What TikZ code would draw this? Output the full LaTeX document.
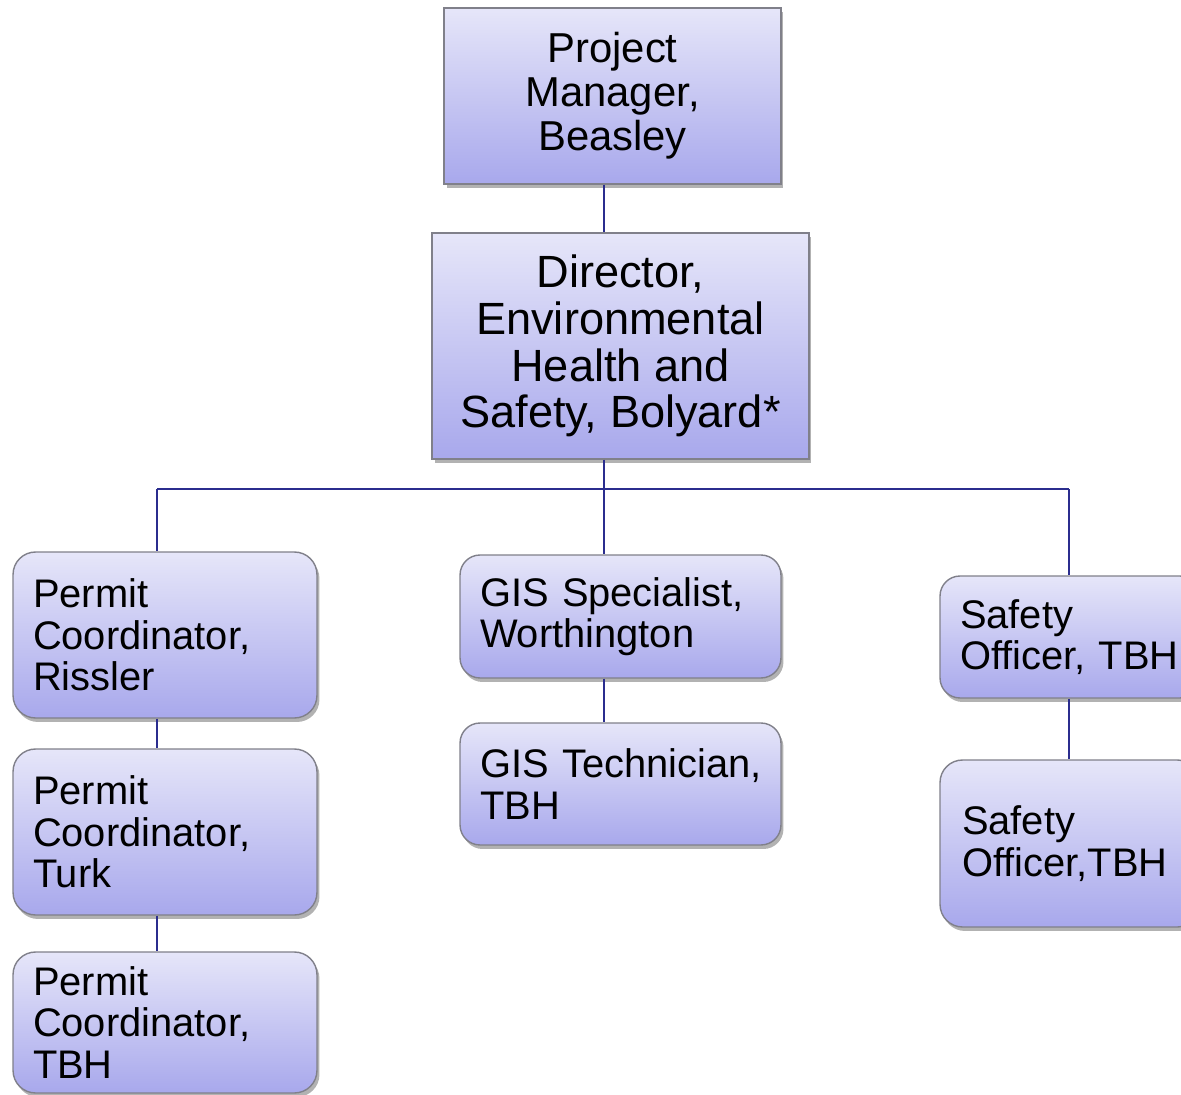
\documentclass[tikz,border=0pt]{standalone}
\usepackage{fontspec}
\setmainfont{Liberation Sans}
\frenchspacing
\usetikzlibrary{shadows}
\definecolor{boxtop}{HTML}{E6E6F9}
\definecolor{boxbot}{HTML}{A8A8EC}
\definecolor{boxline}{HTML}{80808A}
\definecolor{link}{HTML}{2B2D8E}
\tikzset{
	box/.style={draw=boxline, line width=0.8pt, top color=boxtop, bottom color=boxbot,
		drop shadow={shadow xshift=0.5mm, shadow yshift=-0.8mm, opacity=0.3, fill=black},
		align=center, inner sep=0pt},
	card/.style={box, rounded corners=0.45cm, align=left, inner xsep=0.4cm, inner ysep=0pt,
		font=\fontsize{22.7}{23.6}\selectfont},
	wire/.style={link, line width=1.1pt}
}
\begin{document}
\begin{tikzpicture}[x=0.02cm, y=-0.02cm]
	\useasboundingbox (0,0) rectangle (1181,1095);

	% top of the chart
	\node[box, minimum width=6.74cm, minimum height=3.52cm, font=\fontsize{23.8}{25}\selectfont] (pm) at (612.5,96) {Project\\Manager,\\Beasley};
	\node[box, minimum width=7.54cm, minimum height=4.52cm, font=\fontsize{25.7}{26.6}\selectfont] (dir) at (620.5,346) {Director,\\Environmental\\Health and\\Safety, Bolyard*};

	% permit column
	\node[card, text width=5.28cm, minimum height=3.32cm] (permA) at (165,635) {Permit\\Coordinator,\\Rissler};
	\node[card, text width=5.28cm, minimum height=3.32cm] (permB) at (165,832) {Permit\\Coordinator,\\Turk};
	\node[card, text width=5.28cm, minimum height=2.82cm] (permC) at (165,1022.5) {Permit\\Coordinator,\\TBH};

	% gis column
	\node[card, rounded corners=0.4cm, text width=5.62cm, minimum height=2.46cm] (gisA) at (620.5,616.5) {\mbox{GIS Specialist,}\\Worthington};
	\node[card, rounded corners=0.4cm, text width=5.62cm, minimum height=2.44cm] (gisB) at (620.5,784) {\mbox{GIS Technician,}\\TBH};

	% safety column
	\node[card, rounded corners=0.4cm, text width=4.4cm, minimum height=2.44cm] (safeA) at (1070,637) {Safety\\\mbox{Officer, TBH}};
	\node[card, rounded corners=0.45cm, text width=4.32cm, inner xsep=0.44cm, minimum height=3.34cm] (safeB) at (1070,843.5) {Safety\\\mbox{Officer,TBH}};

	\coordinate (trunk) at (604,489);
	\coordinate (busL) at (157,489);
	\coordinate (busR) at (1069,489);

	\draw[wire] (trunk |- pm.south) -- (trunk |- dir.north);
	\draw[wire] (trunk |- dir.south) -- (trunk) -- (trunk |- gisA.north);
	\draw[wire] (busL) -- (busR);
	\draw[wire] (busL) -- (busL |- permA.north);
	\draw[wire] (busR) -- (busR |- safeA.north);
	\draw[wire] (busL |- permA.south) -- (busL |- permB.north);
	\draw[wire] (busL |- permB.south) -- (busL |- permC.north);
	\draw[wire] (trunk |- gisA.south) -- (trunk |- gisB.north);
	\draw[wire] (busR |- safeA.south) -- (busR |- safeB.north);
\end{tikzpicture}
\end{document}
